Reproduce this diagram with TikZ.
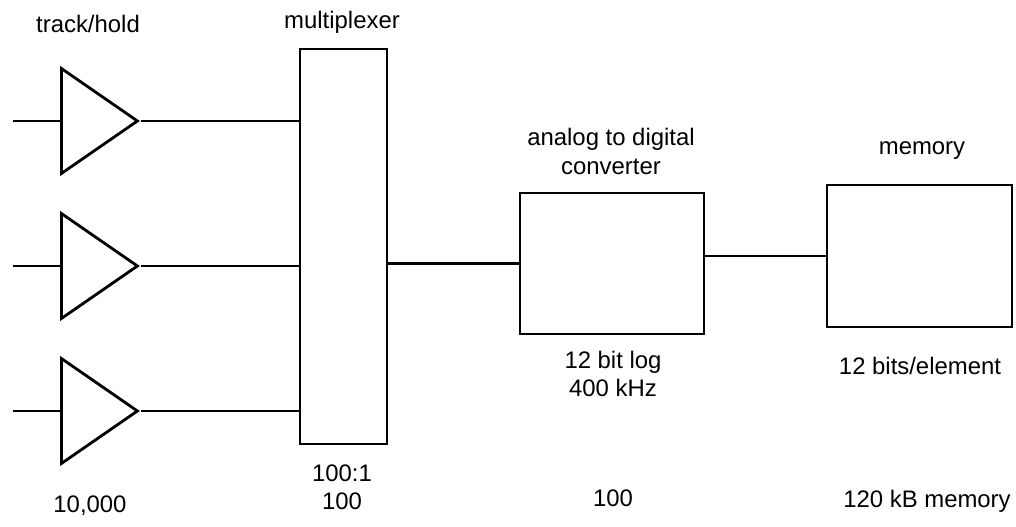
\documentclass[tikz,border=0pt]{standalone}
\usepackage{fontspec}
\setmainfont{Liberation Sans}
\usetikzlibrary{shapes.geometric}

\begin{document}
\begin{tikzpicture}[line width=1.6pt,
        amp/.style={draw, isosceles triangle, isosceles triangle stretches,
          inner sep=0pt, minimum width=2.1cm, minimum height=1.52cm, anchor=lower side},
        block/.style={draw, rectangle, inner sep=0pt},
        txt/.style={font=\fontsize{13.6}{16.5}\selectfont, align=center, anchor=base, inner sep=0pt}]
        \useasboundingbox (0,0) rectangle (20.32,10.54);
        \foreach \i/\y in {1/8.12, 2/5.22, 3/2.32} {
          \node[amp] (th\i) at (1.2,\y) {};
          \coordinate (in\i) at (0.26,\y);
        }
        \node[block, minimum width=1.74cm, minimum height=7.9cm] (mux) at (6.87,5.61) {};
        \node[block, minimum width=3.68cm, minimum height=2.82cm] (adc) at (12.24,5.27) {};
        \node[block, minimum width=3.7cm, minimum height=2.84cm] (mem) at (18.39,5.42) {};
        \foreach \i in {1,2,3}
          \draw (in\i) -- (th\i.lower side) (th\i.apex) -- (th\i.apex -| mux.west);
        \draw (adc.west -| mux.east) -- (adc.west)
              (mem.west -| adc.east) -- (mem.west);
        % two-line labels sit on the baseline of their last line
        \node[txt] (thtop) at (1.76,9.88) {track/hold};
        \node[txt] (muxtop) at (6.84,9.96) {multiplexer};
        \node[txt] (adctop) at (12.22,7.04) {analog to digital\\converter};
        \node[txt] (memtop) at (18.44,7.44) {memory};
        \node[txt] (muxbot) at (6.84,0.34) {100:1\\100};
        \node[txt] (adcbot) at (12.26,2.6) {12 bit log\\400 kHz};
        \node[txt] (membot) at (18.4,3.04) {12 bits/element};
        \node[txt] (thcount) at (1.8,0.28) {10,000};
        \node[txt] (adccount) at (12.26,0.4) {100};
        \node[txt] (memsize) at (18.54,0.38) {120 kB memory};
\end{tikzpicture}
\end{document}
